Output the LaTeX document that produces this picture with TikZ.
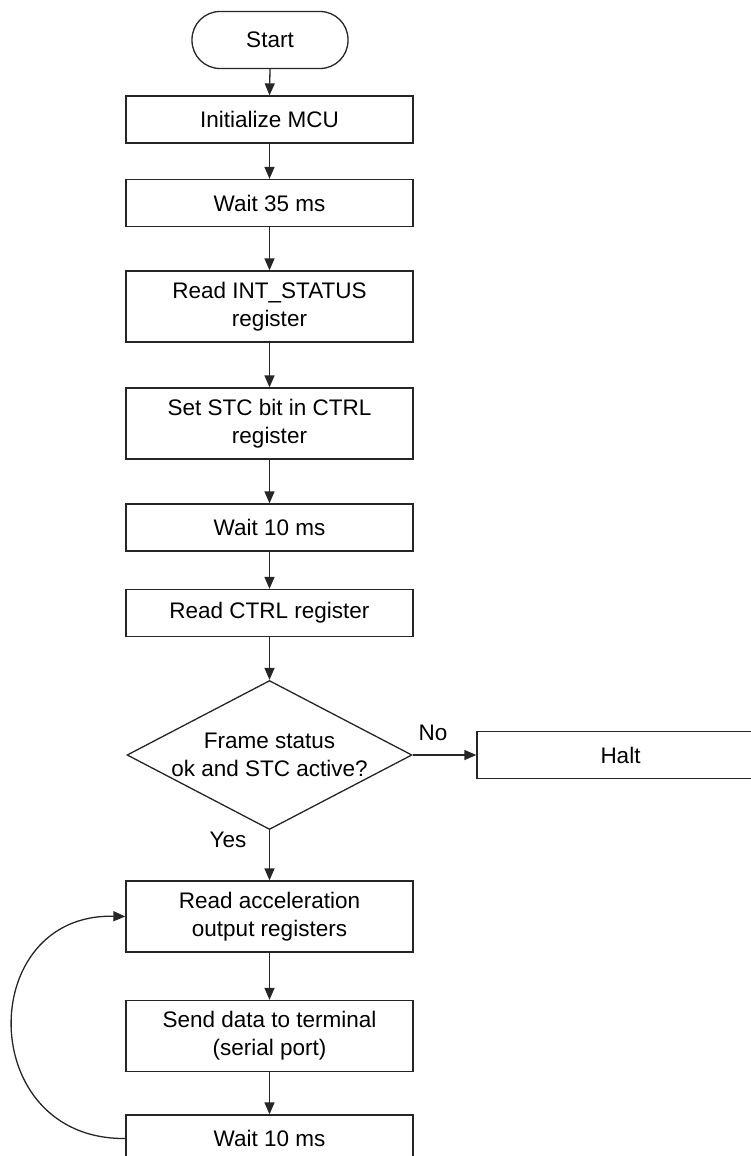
\documentclass[tikz,border=0pt]{standalone}
\usepackage{fontspec}
\setmainfont{Liberation Sans}
\usetikzlibrary{shapes.geometric,arrows.meta}
\begin{document}
\begin{tikzpicture}[x=1pt,y=-1pt,
  txt/.style={font=\fontsize{22.5}{28}\selectfont, align=center},
  box/.style={txt, draw=black!85, line width=1.3pt, fill=white, minimum width=287pt, inner sep=0pt},
  hs/.style={minimum height=47pt},
  hl/.style={minimum height=71pt},
  term/.style={txt, draw=black!85, line width=1.3pt, fill=white, minimum width=156pt, minimum height=57pt, rounded corners=28pt, inner sep=0pt},
  decision/.style={txt, draw=black!85, line width=1.3pt, fill=white, shape=diamond, aspect=1.91, inner sep=0pt, minimum width=285pt, minimum height=149pt},
  flow/.style={draw=black!85, line width=1.3pt, -{Triangle[length=12pt,width=10pt]}},
  lbl/.style={txt, inner sep=0pt}
]
\useasboundingbox (0,0) rectangle (751,1156);
\node[term] (start) at (270,40) {Start};
\node[box,hs] (init) at (269.5,119.5) {Initialize MCU};
\node[box,hs] (wait35) at (269.5,203) {Wait 35 ms};
\node[box,hl] (readint) at (269.5,306.5) {Read INT\_STATUS\\register};
\node[box,hl] (setstc) at (269.5,423.5) {Set STC bit in CTRL\\register};
\node[box,hs] (waita) at (269.5,527.5) {Wait 10 ms};
\node[box,hs] (readctrl) at (269.5,613) {Read CTRL register};
\node[decision] (dec) at (269.5,755) {Frame status\\ok and STC active?};
\node[box,hs] (halt) at (620.5,755) {Halt};
\node[box,hl] (readacc) at (269.5,916.5) {Read acceleration\\output registers};
\node[box,hl] (send) at (269.5,1036) {Send data to terminal\\(serial port)};
\node[box,hs] (waitb) at (269.5,1138.5) {Wait 10 ms};
\node[lbl] (no) at (433,733) {No};
\node[lbl] (yes) at (228,840) {Yes};

\draw[flow] (start.south) -- (init.north);
\draw[flow] (init.south) -- (wait35.north);
\draw[flow] (wait35.south) -- (readint.north);
\draw[flow] (readint.south) -- (setstc.north);
\draw[flow] (setstc.south) -- (waita.north);
\draw[flow] (waita.south) -- (readctrl.north);
\draw[flow] (readctrl.south) -- (dec.north);
\draw[flow] (dec.east) -- (halt.west);
\draw[flow] (dec.south) -- (readacc.north);
\draw[flow] (readacc.south) -- (send.north);
\draw[flow] (send.south) -- (waitb.north);
\draw[flow] (waitb.west) .. controls (-25,1140) and (-25,913) .. (readacc.west);
\end{tikzpicture}
\end{document}
